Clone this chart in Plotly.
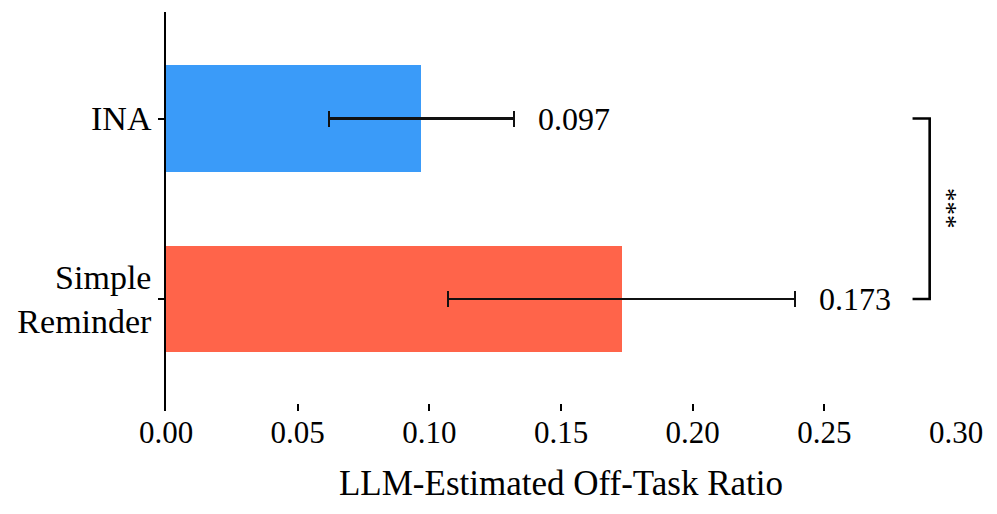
import plotly.graph_objects as go

# Data
categories = ["INA", "Simple<br>Reminder"]
values = [0.097, 0.173]
errors = [0.035, 0.066]
colors = ["#3A9BF9", "#FF644A"]
positions = [1, 0]
x_ticks = [0.00, 0.05, 0.10, 0.15, 0.20, 0.25, 0.30]
x_tick_labels = ["0.00", "0.05", "0.10", "0.15", "0.20", "0.25", "0.30"]
sig_label = "***"
bracket_x = 0.290
bracket_arm = 0.0065

FONT = "Liberation Serif"

fig = go.Figure()
fig.add_trace(go.Bar(
    orientation="h",
    y=positions,
    x=values,
    width=0.59,
    marker=dict(color=colors, line=dict(width=0)),
    error_x=dict(type="data", array=errors, visible=True,
                 color="#111111", thickness=2.2, width=8),
    showlegend=False,
))

annotations = []
for v, e, p in zip(values, errors, positions):
    annotations.append(dict(
        x=v + e, y=p, xref="x", yref="y", text=f"{v:.3f}",
        showarrow=False, xanchor="left", yanchor="middle", xshift=22,
        font=dict(family=FONT, size=32, color="black"),
    ))

# significance bracket
shapes = [dict(
    type="path",
    path=(f"M {bracket_x - bracket_arm},{positions[0]} L {bracket_x},{positions[0]} "
          f"L {bracket_x},{positions[1]} L {bracket_x - bracket_arm},{positions[1]}"),
    xref="x", yref="y", line=dict(color="black", width=2.6),
)]
annotations.append(dict(
    x=bracket_x, y=(positions[0] + positions[1]) / 2, xref="x", yref="y",
    text=sig_label, showarrow=False, textangle=90, xanchor="left", yanchor="middle",
    xshift=1, font=dict(family=FONT, size=27, color="black"),
))

fig.update_layout(
    width=989, height=506,
    margin=dict(l=158, r=41, t=4, b=103),
    plot_bgcolor="white", paper_bgcolor="white",
    font=dict(family=FONT, color="black"),
    annotations=annotations, shapes=shapes,
    bargap=0,
)
fig.update_xaxes(
    range=[0, 0.30], tickvals=x_ticks, ticktext=x_tick_labels,
    showgrid=False, zeroline=False, showline=False,
    ticks="inside", ticklen=7, tickwidth=1.5, tickcolor="black",
    tickfont=dict(family=FONT, size=31, color="black"),
    title=dict(text="LLM-Estimated Off-Task Ratio", standoff=21,
               font=dict(family=FONT, size=35, color="black")),
    automargin=False,
)
fig.update_yaxes(
    range=[-0.62, 1.59], tickvals=positions, ticktext=categories,
    showgrid=False, zeroline=False, showline=True, linecolor="black", linewidth=1.5,
    ticks="outside", ticklen=6, tickwidth=1.5, tickcolor="black",
    tickfont=dict(family=FONT, size=34, color="black"),
    automargin=False,
)

fig.write_html("out.html")
